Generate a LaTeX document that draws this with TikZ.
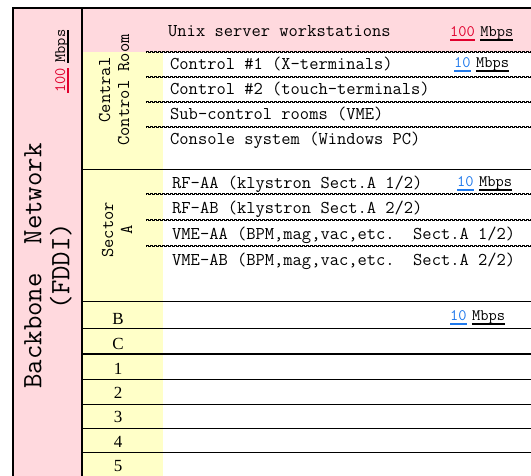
\documentclass[tikz,border=0pt]{standalone}
\usepackage{fontspec}
\usetikzlibrary{positioning}
\newfontfamily\rowfont{Liberation Serif}
\definecolor{bbpink}{RGB}{255,217,222}
\definecolor{ccyellow}{RGB}{255,255,200}
\definecolor{netred}{RGB}{225,0,45}
\definecolor{netblue}{RGB}{30,120,235}
\frenchspacing
\begin{document}
\begin{tikzpicture}[x=1pt,y=-1pt,
	entry/.style={anchor=base west, inner sep=0pt, font=\ttfamily\fontsize{18}{18}\selectfont},
	vlabel/.style={rotate=90, align=center, inner sep=0pt, font=\ttfamily\fontsize{18}{19}\selectfont},
	rowlabel/.style={anchor=base, inner sep=0pt, text=black, font=\rowfont\fontsize{17}{18}\selectfont},
	rate/.style={anchor=base west, inner sep=0pt, text height=9pt, text depth=2.5pt, font=\ttfamily\fontsize{16}{16}\selectfont},
	uline/.style={line width=1.8pt},
	sepline/.style={line width=1.5pt, dash pattern=on 2.5pt off 1.5pt},
	rowline/.style={line width=1pt}]
	\useasboundingbox (0,0) rectangle (531,476);
	% Backgrounds
	\fill[bbpink] (13,8) rectangle (82,476);
	\fill[bbpink] (82,8) rectangle (531,52);
	\fill[ccyellow] (82,52) rectangle (163,476);
	% Frame and row lines
	\draw[line width=1.4pt] (531,8) -- (13,8) -- (13,476);
	\draw[line width=1.2pt] (82,8) -- (82,476);
	\draw[rowline] (82,170) -- (531,170) (82,302) -- (531,302) (82,329) -- (531,329) (82,354) -- (531,354)
		(82,379) -- (531,379) (82,404) -- (531,404) (82,428) -- (531,428) (82,452) -- (531,452);
	% Sub-network separators
	\draw[sepline] (146,51.3) -- (531,51.3) (146,76.3) -- (531,76.3) (146,101.3) -- (531,101.3) (146,126.3) -- (531,126.3)
		(146,193.3) -- (531,193.3) (146,219.3) -- (531,219.3) (146,245.3) -- (531,245.3);
	\draw[sepline, dash phase=2pt] (146,52.7) -- (531,52.7) (146,77.7) -- (531,77.7) (146,102.7) -- (531,102.7) (146,127.7) -- (531,127.7)
		(146,194.7) -- (531,194.7) (146,220.7) -- (531,220.7) (146,246.7) -- (531,246.7);
	% Left labels
	\node[vlabel, font=\ttfamily\fontsize{28}{28}\selectfont] (backbone) at (48,266) {Backbone\ \ Network\\(FDDI)};
	\node[vlabel] (central) at (114,90) {Central\\Control Room};
	\node[vlabel] (sectora) at (117,230) {Sector\\A};
	% Entries
	\node[entry] (unix) at (168,37) {Unix server workstations};
	\node[entry] (ctrla) at (170,70) {Control \#1 (X-terminals)};
	\node[entry] (ctrlb) at (170,95) {Control \#2 (touch-terminals)};
	\node[entry] (subctrl) at (170,120) {Sub-control rooms (VME)};
	\node[entry] (console) at (170,145) {Console system (Windows PC)};
	\node[entry] (rfaa) at (172,189) {RF-AA (klystron Sect.A 1/2)};
	\node[entry] (rfab) at (172,214) {RF-AB (klystron Sect.A 2/2)};
	\node[entry] (vmeaa) at (172,240) {VME-AA (BPM,mag,vac,etc.\ \ Sect.A 1/2)};
	\node[entry] (vmeab) at (172,266) {VME-AB (BPM,mag,vac,etc.\ \ Sect.A 2/2)};
	% Sector rows
	\node[rowlabel] (secb) at (118,324) {B};
	\node[rowlabel] (secc) at (118,349) {C};
	\node[rowlabel] (sec1) at (118,374) {1};
	\node[rowlabel] (sec2) at (118,398) {2};
	\node[rowlabel] (sec3) at (118,422) {3};
	\node[rowlabel] (sec4) at (118,447) {4};
	\node[rowlabel] (sec5) at (118,471) {5};
	% Line speeds
	\node[rate, rotate=90, text=netred] (bbnum) at (65,93) {100};
	\node[rate, rotate=90] (bbunit) at ([yshift=5pt]bbnum.base east) {Mbps};
	\draw[uline, netred] (bbnum.south west) -- (bbnum.south east);
	\draw[uline] (bbunit.south west) -- (bbunit.south east);
	\node[rate, text=netred] (unixnum) at (450,37) {100};
	\node[rate] (unixunit) at ([xshift=5pt]unixnum.base east) {Mbps};
	\draw[uline, netred] (unixnum.south west) -- (unixnum.south east);
	\draw[uline] (unixunit.south west) -- (unixunit.south east);
	\node[rate, text=netblue] (ctrlnum) at (454,68) {10};
	\node[rate] (ctrlunit) at ([xshift=5pt]ctrlnum.base east) {Mbps};
	\draw[uline, netblue] (ctrlnum.south west) -- (ctrlnum.south east);
	\draw[uline] (ctrlunit.south west) -- (ctrlunit.south east);
	\node[rate, text=netblue] (rfnum) at (457,187) {10};
	\node[rate] (rfunit) at ([xshift=5pt]rfnum.base east) {Mbps};
	\draw[uline, netblue] (rfnum.south west) -- (rfnum.south east);
	\draw[uline] (rfunit.south west) -- (rfunit.south east);
	\node[rate, text=netblue] (bnum) at (450,321) {10};
	\node[rate] (bunit) at ([xshift=5pt]bnum.base east) {Mbps};
	\draw[uline, netblue] (bnum.south west) -- (bnum.south east);
	\draw[uline] (bunit.south west) -- (bunit.south east);
\end{tikzpicture}
\end{document}
